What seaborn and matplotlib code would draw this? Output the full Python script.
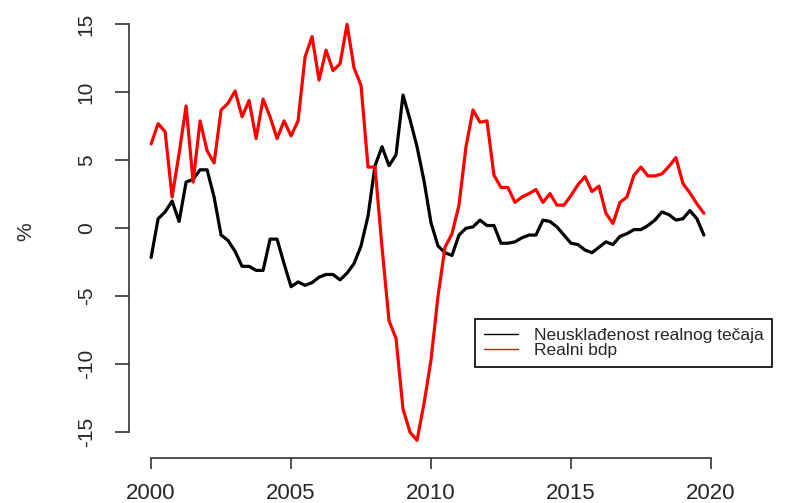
import pandas as pd
import matplotlib
matplotlib.use('Agg')
import matplotlib.pyplot as plt
import seaborn as sns
from matplotlib.lines import Line2D

# quarterly data 2000Q1 - 2019Q4
godine = [2000 + i / 4 for i in range(80)]

neuskladenost = [-2.15, 0.7, 1.2, 2.0, 0.5, 3.4, 3.6, 4.3, 4.3, 2.3,
                 -0.5, -0.9, -1.7, -2.8, -2.8, -3.1, -3.1, -0.8, -0.8, -2.6,
                 -4.3, -3.95, -4.2, -4.0, -3.6, -3.4, -3.4, -3.8, -3.3, -2.6,
                 -1.3, 0.9, 4.6, 6.0, 4.6, 5.4, 9.8, 8.0, 6.0, 3.5,
                 0.4, -1.3, -1.8, -2.0, -0.5, 0.0, 0.1, 0.6, 0.2, 0.2,
                 -1.1, -1.1, -1.0, -0.7, -0.5, -0.5, 0.6, 0.5, 0.1, -0.5,
                 -1.1, -1.2, -1.6, -1.8, -1.4, -1.0, -1.2, -0.6, -0.4, -0.1,
                 -0.1, 0.2, 0.6, 1.2, 1.0, 0.6, 0.7, 1.3, 0.7, -0.5]

realni_bdp = [6.2, 7.7, 7.1, 2.3, 5.5, 9.0, 3.4, 7.9, 5.7, 4.8,
              8.7, 9.2, 10.1, 8.2, 9.4, 6.6, 9.5, 8.2, 6.6, 7.9,
              6.8, 7.9, 12.6, 14.1, 10.9, 13.1, 11.6, 12.1, 15.0, 11.8,
              10.5, 4.5, 4.5, -1.4, -6.8, -8.1, -13.3, -15.0, -15.6, -12.9,
              -9.7, -5.0, -1.4, -0.4, 1.7, 6.0, 8.7, 7.8, 7.9, 3.9,
              3.0, 3.0, 1.9, 2.3, 2.55, 2.85, 1.9, 2.55, 1.7, 1.7,
              2.4, 3.2, 3.8, 2.7, 3.1, 1.1, 0.35, 1.9, 2.3, 3.9,
              4.5, 3.85, 3.85, 4.0, 4.55, 5.2, 3.3, 2.6, 1.8, 1.1]

nazivi = ['Neusklađenost realnog tečaja', 'Realni bdp']
boje = {'Neusklađenost realnog tečaja': 'black', 'Realni bdp': '#FF0000'}

df = pd.concat([
    pd.DataFrame({'t': godine, 'v': neuskladenost, 'serija': nazivi[0]}),
    pd.DataFrame({'t': godine, 'v': realni_bdp, 'serija': nazivi[1]}),
])

sns.set_style('white')
plt.rcParams['font.family'] = ['Liberation Sans', 'DejaVu Sans']
plt.rcParams['axes.unicode_minus'] = False

fig = plt.figure(figsize=(7.94, 5.03), dpi=100)
ax = fig.add_axes([129 / 794, 45 / 503, (726 - 129) / 794, (458 - 6) / 503])

sns.lineplot(data=df, x='t', y='v', hue='serija', palette=boje,
             linewidth=2.3, legend=False, ax=ax)

ax.set_xlim(1999.21, 2020.54)
ax.set_ylim(-16.9, 16.35)

ax.set_xticks([2000, 2005, 2010, 2015, 2020])
ax.set_yticks([-15, -10, -5, 0, 5, 10, 15])
ax.set_yticklabels(['-15', '-10', '-5', '0', '5', '10', '15'],
                   rotation=90, va='center')

for s in ['top', 'right']:
    ax.spines[s].set_visible(False)
ax.spines['left'].set_bounds(-15, 15)
ax.spines['bottom'].set_bounds(2000, 2020)
for s in ['left', 'bottom']:
    ax.spines[s].set_color('#333333')
    ax.spines[s].set_linewidth(1.2)

ax.tick_params(axis='x', length=8, width=1.2, color='#333333', pad=10,
               labelsize=16, direction='out', bottom=True)
ax.tick_params(axis='y', length=10, width=1.2, color='#333333', pad=14,
               labelsize=15, direction='out', left=True)

ax.set_xlabel('')
ax.set_ylabel('%', fontsize=15, labelpad=30)

handles = [Line2D([], [], color='black', lw=1),
           Line2D([], [], color='#FF0000', lw=1)]
leg = ax.legend(handles, nazivi, loc='upper left',
                bbox_to_anchor=(475 / 794, 1 - 319 / 503),
                bbox_transform=fig.transFigure, fontsize=12.5,
                frameon=True, fancybox=False, framealpha=1,
                edgecolor='black', borderaxespad=0, borderpad=0.5,
                handlelength=2.0, handletextpad=0.9, labelspacing=0.0)
leg.get_frame().set_linewidth(1.2)

fig.savefig('out.png', dpi=100)
